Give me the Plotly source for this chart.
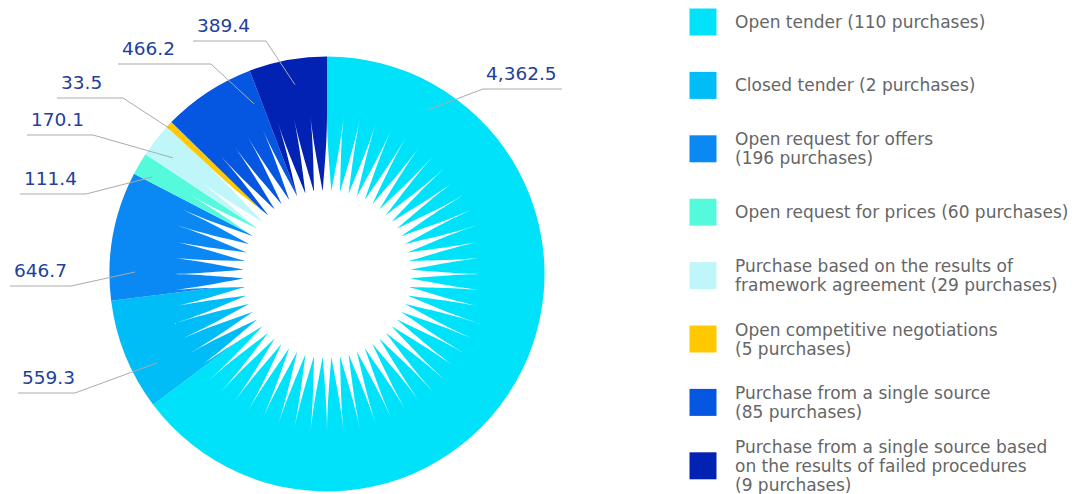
import math
import plotly.graph_objects as go

# ---------------- data ----------------
categories = [
    "Open tender (110 purchases)",
    "Closed tender (2 purchases)",
    "Open request for offers<br>(196 purchases)",
    "Open request for prices (60 purchases)",
    "Purchase based on the results of<br>framework agreement (29 purchases)",
    "Open competitive negotiations<br>(5 purchases)",
    "Purchase from a single source<br>(85 purchases)",
    "Purchase from a single source based<br>on the results of failed procedures<br>(9 purchases)",
]
values = [4362.5, 559.3, 646.7, 111.4, 170.1, 33.5, 466.2, 389.4]
colors = ["#00e2fa", "#00bdf8", "#0a89f4", "#55fadc", "#bff6fa", "#ffc800", "#0556e0", "#0222b4"]

# ---------------- layout geometry (pixels) ----------------
W, H = 1075, 494
CX, CY, R = 327.0, 274.0, 217.5
R_CORE, R_TIP, N_RAYS = 84.0, 163.0, 60

# leader-line layout per slice: anchor angle (deg, clockwise from top), anchor radius,
# horizontal line y, line x-start, line x-end, side
label_layout = [
    (31.4, 192, 89, 483, 562, "right"),
    (242.4, 192, 393, 18, 75, "left"),
    (270.6, 192, 286, 10, 71, "left"),
    (299.0, 200, 194, 20, 86, "left"),
    (307.0, 193, 135, 27, 93, "left"),
    (312.8, 214, 98, 57, 123, "left"),
    (336.8, 185, 64, 118, 211, "left"),
    (350.4, 192, 41, 193, 266, "left"),
]

LEG_X_BOX, LEG_X_TEXT, LEG_Y0, LEG_STEP = 703, 733, 22, 63.4


def pt(angle_deg, r):
    a = math.radians(angle_deg)
    return CX + r * math.sin(a), CY - r * math.cos(a)


fig = go.Figure()

# donut
fig.add_trace(go.Pie(
    values=values,
    labels=[c.replace("<br>", " ") for c in categories],
    marker=dict(colors=colors, line=dict(width=0)),
    sort=False,
    direction="clockwise",
    rotation=0,
    hole=R_CORE / R,
    textinfo="none",
    hoverinfo="label+value",
    showlegend=False,
    domain=dict(x=[(CX - R) / W, (CX + R) / W],
                y=[(H - CY - R) / H, (H - CY + R) / H]),
))

# legend squares
leg_y = [LEG_Y0 + i * LEG_STEP for i in range(len(categories))]
fig.add_trace(go.Scatter(
    x=[LEG_X_BOX] * len(categories),
    y=leg_y,
    mode="markers",
    marker=dict(symbol="square", size=27, color=colors, line=dict(width=0)),
    hoverinfo="skip",
    showlegend=False,
))

# legend texts (one annotation per line)
LINE_H = 19
for i, cat in enumerate(categories):
    lines = cat.split("<br>")
    n = len(lines)
    for j, ln in enumerate(lines):
        fig.add_annotation(
            x=LEG_X_TEXT, y=leg_y[i] + (j - (n - 1) / 2) * LINE_H,
            xref="x", yref="y", text=ln, showarrow=False,
            xanchor="left", yanchor="middle",
            font=dict(family="DejaVu Sans", size=17, color="#666666"),
        )

# starburst rays (white) on top of the donut
segs = []
steps = 16
half = 180.0 / N_RAYS * 1.08
for k in range(N_RAYS):
    th = k * 360.0 / N_RAYS
    left, right = [], []
    for i in range(steps + 1):
        t = i / steps
        r = (R_CORE - 4) + (R_TIP - R_CORE + 4) * t
        w = half * (1 - t) ** 2.3
        left.append(pt(th - w, r))
        right.append(pt(th + w, r))
    poly = left + right[::-1]
    segs.append("M" + "L".join(f"{x:.2f},{y:.2f}" for x, y in poly) + "Z")
fig.add_shape(type="path", path="".join(segs), xref="x", yref="y",
              fillcolor="white", line=dict(width=0), layer="above")

# value labels with leader lines
for v, (ang, ar, ly, x0, x1, side) in zip(values, label_layout):
    ax, ay = pt(ang, ar)
    if side == "left":
        path = f"M{x0},{ly}L{x1},{ly}L{ax:.2f},{ay:.2f}"
        tx, xanc = x0 + 2, "left"
    else:
        path = f"M{ax:.2f},{ay:.2f}L{x0},{ly}L{x1},{ly}"
        tx, xanc = x1 - 3, "right"
    fig.add_shape(type="path", path=path, xref="x", yref="y",
                  line=dict(color="#ababab", width=1), layer="above")
    fig.add_annotation(
        x=tx, y=ly - 16, xref="x", yref="y", text=f"{v:,.1f}",
        showarrow=False, xanchor=xanc, yanchor="middle",
        font=dict(family="DejaVu Sans", size=18.5, color="#23409a"),
    )

fig.update_layout(
    width=W, height=H,
    margin=dict(l=0, r=0, t=0, b=0),
    paper_bgcolor="white", plot_bgcolor="rgba(0,0,0,0)",
    showlegend=False,
    xaxis=dict(range=[0, W], visible=False, fixedrange=True, domain=[0, 1]),
    yaxis=dict(range=[H, 0], visible=False, fixedrange=True, domain=[0, 1]),
)

fig.write_html("out.html",
               config={"displayModeBar": False},
               post_script="document.body.style.margin='0';document.body.style.overflow='hidden';")
